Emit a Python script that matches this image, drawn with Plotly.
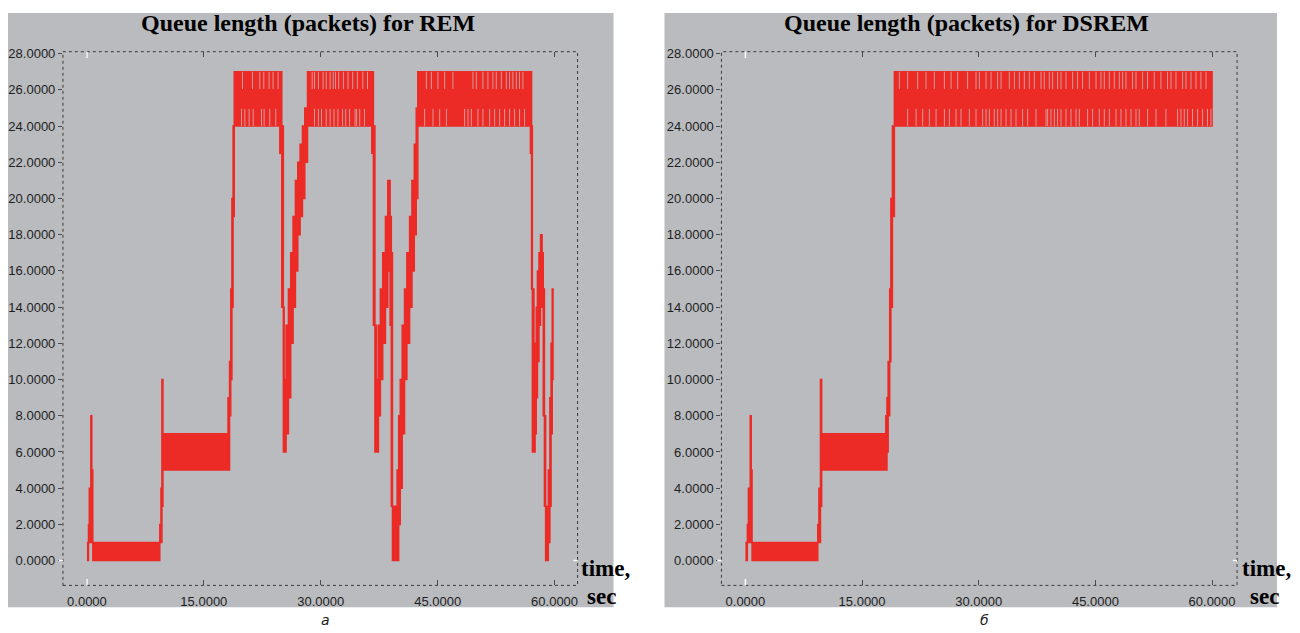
import plotly.graph_objects as go

# ---------------- DATA ----------------
# Queue length is shown as a min/max envelope per time bin:
# bin start time (s), minimum queue (packets), maximum queue (packets)
rem_t = [0.00, 0.20, 0.30, 0.50, 0.62, 0.75, 9.35, 9.50, 9.62, 9.75,
         18.10, 18.30, 18.45, 18.60, 18.75, 18.90, 24.75, 25.00, 25.20,
         25.30, 25.55, 25.85, 26.15, 26.45, 26.75, 27.05, 27.35, 27.65, 27.95, 28.30,
         36.55, 36.75, 36.95, 37.15, 37.40, 37.65, 37.95, 38.30, 38.60, 38.90, 39.05, 39.20,
         39.80, 40.00, 40.20, 40.45, 40.75, 41.05, 41.40, 41.70, 42.00, 42.25, 42.45,
         56.90, 57.05, 57.15, 57.35, 57.50, 57.65, 57.80, 58.00, 58.20, 58.40, 58.55, 58.70,
         58.85, 59.05, 59.20, 59.40, 59.55, 59.70]
rem_lo = [0, 1, 1, 1, 1, 0, 1, 1, 3, 5,
          5, 8, 10, 14, 19, 24, 22.5, 14, 6,
          6, 7, 9, 12, 14, 16, 18, 19, 20, 22, 24,
          22.5, 13, 6, 6, 8, 10, 12, 14, 16, 13, 3, 0,
          0, 2, 4, 7, 10, 12, 14, 16, 18, 20, 24,
          22.5, 15, 6, 6, 7, 9, 11, 13, 14, 14, 8, 3,
          0, 0, 1, 3, 7, 10]
rem_hi = [1, 2, 4, 8, 5, 1, 2, 4, 10, 7,
          9, 11, 15, 20, 24, 27, 27, 24, 14,
          10, 13, 15, 17, 19, 21, 22, 23, 24, 25, 27,
          27, 24, 13, 10, 13, 15, 17, 19, 21, 19, 17, 3,
          5, 8, 10, 13, 15, 17, 19, 21, 23, 25, 27,
          27, 24, 15, 10, 12, 14, 16, 17, 18, 17, 15, 8,
          3, 3, 5, 9, 12, 15]
rem_t_end = 59.90
# times where the oscillation peak stayed at 26 (gap in the 26-27 zone)
rem_gap_top = [19.96, 21.24, 22.18, 22.69, 23.37, 23.88, 24.53,
               28.9, 29.2, 29.7, 30.3, 30.7, 31.2, 31.6, 31.9, 32.3, 32.9, 33.5, 34.1, 34.7,
               35.4, 36.0,
               43.55, 44.19, 45.04, 45.9, 46.96, 49.53, 49.96, 50.81, 51.45, 52.09, 52.52,
               53.17, 53.81, 54.23, 54.65, 55.09, 55.51, 55.94]
# times where the oscillation trough stayed at 25 (gap in the 24-25 zone)
rem_gap_bot = [19.83, 20.26, 20.81, 21.33, 22.4, 22.73, 23.46, 24.23,
               29.2, 29.7, 30.1, 30.7, 31.2, 31.7, 32.2, 32.8, 33.2, 33.7, 34.4, 34.6,
               35.0, 35.6,
               43.33, 44.40, 45.26, 46.12, 48.46, 48.89, 49.32, 50.17, 50.81, 51.67, 52.31,
               52.95, 53.59, 54.23, 54.87, 55.51, 56.15]

dsrem_t = [0.00, 0.25, 0.38, 0.62, 0.75, 0.85, 9.30, 9.45, 9.65, 9.80,
           18.05, 18.20, 18.35, 18.55, 18.70, 18.90, 19.15]
dsrem_lo = [0, 1, 1, 1, 1, 0, 1, 1, 3, 5,
            5, 6, 8, 11, 14, 19, 24]
dsrem_hi = [1, 2, 4, 8, 5, 1, 2, 4, 10, 7,
            8, 9, 11, 15, 20, 24, 27]
dsrem_t_end = 60.10
dsrem_gap_top = [19.79, 20.86, 22.15, 23.22, 24.29,
                 25.58, 26.44, 27.29, 28.57, 29.65, 30.08, 30.94, 31.58, 32.43, 32.87,
                 33.93, 34.58, 35.22, 35.86, 36.5, 37.15, 38.01, 38.43, 39.07, 39.5,
                 40.14, 40.58, 41.22, 42.07, 42.71, 43.35, 44.22, 45.08, 45.72, 46.14,
                 46.79, 47.43, 48.07, 48.5, 48.93, 49.78, 50.22, 51.07, 51.71, 52.57,
                 53.43, 54.28, 54.72, 55.36, 56.21, 56.65, 57.29, 57.93, 58.57, 59.22]
dsrem_gap_bot = [20.86, 21.94, 22.79, 23.65, 24.51,
                 25.58, 26.22, 27.08, 27.72, 28.79, 29.65, 30.5, 30.94, 31.36, 32.0,
                 32.43, 32.87, 33.51, 34.15, 34.79, 35.64, 36.29, 37.36, 38.65, 38.86,
                 39.29, 39.72, 40.14, 40.58, 41.22, 41.86, 42.51, 42.93, 44.0, 44.64,
                 45.5, 46.14, 46.79, 47.65, 48.29, 48.93, 49.58, 50.22, 50.64, 51.71,
                 52.79, 54.07, 55.57, 56.0, 56.43, 56.85, 57.49, 58.14, 58.78, 59.42, 59.86]

titles = ["Queue length (packets) for REM", "Queue length (packets) for DSREM"]
captions = ["а", "б"]
x_ticks = [0, 15, 30, 45, 60]

# ---------------- STYLE ----------------
OFF = 8                      # page body margin of the browser
W, H = 1300 - OFF, 633 - OFF  # figure fills the rest of the window
RED = "#EC2A26"
GREY = "#B9BBBE"
STRIPE = "#D4A6A5"
TXT = "#1E1E1E"
TICKC = "#4a4a4a"


def px(x):
    return (x - OFF) / W


def py(y):
    return 1 - (y - OFF) / H


panels = [
    dict(t=rem_t, lo=rem_lo, hi=rem_hi, tend=rem_t_end, gt=rem_gap_top, gb=rem_gap_bot,
         frame=(63, 578), x0px=87, x60px=555, bg=(8, 614), title_x=308, time_x=579, sec_x=585, cap_x=326),
    dict(t=dsrem_t, lo=dsrem_lo, hi=dsrem_hi, tend=dsrem_t_end, gt=dsrem_gap_top, gb=dsrem_gap_bot,
         frame=(722, 1238), x0px=746, x60px=1213, bg=(665, 1278), title_x=967, time_x=1241, sec_x=1249, cap_x=985),
]
FRAME_T, FRAME_B = 47, 585
Y0PX, Y28PX = 560, 49
yscale = (Y0PX - Y28PX) / 28.0
y_range = [(Y0PX - FRAME_B) / yscale, (Y0PX - FRAME_T) / yscale]

fig = go.Figure()
shapes = []
annotations = []
layout_axes = {}

for i, p in enumerate(panels):
    n = i + 1
    xa = "x" if n == 1 else f"x{n}"
    ya = "y" if n == 1 else f"y{n}"
    xs = list(p["t"]) + [p["tend"]]
    lo = list(p["lo"]) + [p["lo"][-1]]
    hi = list(p["hi"]) + [p["hi"][-1]]
    fig.add_trace(go.Scatter(x=xs, y=lo, mode="lines", line=dict(color=RED, width=1.5, shape="hv"),
                             xaxis=xa, yaxis=ya, showlegend=False, hoverinfo="skip"))
    fig.add_trace(go.Scatter(x=xs, y=hi, mode="lines", line=dict(color=RED, width=1.5, shape="hv"),
                             fill="tonexty", fillcolor=RED,
                             xaxis=xa, yaxis=ya, showlegend=False, hoverinfo="skip"))
    sx, sy = [], []
    for t in p["gt"]:
        sx += [t, t, None]
        sy += [26.05, 27.0, None]
    for t in p["gb"]:
        sx += [t, t, None]
        sy += [24.0, 24.95, None]
    fig.add_trace(go.Scatter(x=sx, y=sy, mode="lines", line=dict(color=STRIPE, width=0.9),
                             xaxis=xa, yaxis=ya, showlegend=False, hoverinfo="skip"))

    fl, fr = p["frame"]
    xscale = (p["x60px"] - p["x0px"]) / 60.0
    x_range = [(fl - p["x0px"]) / xscale, (fr - p["x0px"]) / xscale]
    dom_x = [px(fl), px(fr)]
    dom_y = [py(FRAME_B), py(FRAME_T)]
    tickfont = dict(family="Liberation Sans, Arial", size=13, color=TXT)
    layout_axes["xaxis" if n == 1 else f"xaxis{n}"] = dict(
        domain=dom_x, range=x_range, anchor=ya, tickvals=x_ticks, tickformat=".4f",
        ticks="inside", ticklen=5, tickcolor=TICKC, tickwidth=1, mirror="ticks",
        showline=True, linecolor=GREY, linewidth=1,
        showgrid=False, zeroline=False, tickfont=tickfont, ticklabelstandoff=4, fixedrange=True)
    layout_axes["yaxis" if n == 1 else f"yaxis{n}"] = dict(
        domain=dom_y, range=y_range, anchor=xa, dtick=2, tick0=0, tickformat=".4f",
        ticks="outside", ticklen=4, tickcolor=TICKC, tickwidth=1,
        showline=False, showgrid=False, zeroline=False, tickfont=tickfont, fixedrange=True)
    # right-hand inside ticks
    layout_axes[f"yaxis{n + 2}"] = dict(
        domain=dom_y, range=y_range, anchor=xa, overlaying=ya, side="right",
        dtick=2, tick0=0, ticks="inside", ticklen=4, tickcolor=TICKC, showticklabels=False,
        showline=False, showgrid=False, zeroline=False, fixedrange=True)

    bl, br = p["bg"]
    shapes.append(dict(type="rect", xref="paper", yref="paper", x0=px(bl), x1=px(br),
                       y0=py(607), y1=py(OFF), fillcolor=GREY, line=dict(width=0), layer="below"))
    shapes.append(dict(type="rect", xref="paper", yref="paper", x0=dom_x[0], x1=dom_x[1],
                       y0=dom_y[0], y1=dom_y[1], line=dict(color="#3a3a3a", width=1, dash="dot"),
                       layer="above"))
    # white marks at the origin ticks
    shapes.append(dict(type="line", xref=xa, yref=f"{ya} domain", x0=0, x1=0, y0=0, y1=0.012,
                       line=dict(color="white", width=1.5)))
    shapes.append(dict(type="line", xref=xa, yref=f"{ya} domain", x0=0, x1=0, y0=0.988, y1=1,
                       line=dict(color="white", width=1.5)))
    shapes.append(dict(type="line", xref=f"{xa} domain", yref=ya, x0=-0.008, x1=0, y0=0, y1=0,
                       line=dict(color="white", width=1.5)))
    shapes.append(dict(type="line", xref=f"{xa} domain", yref=ya, x0=0.992, x1=1, y0=0, y1=0,
                       line=dict(color="white", width=1.5)))

    annotations.append(dict(text=f"<b>{titles[i]}</b>", xref="paper", yref="paper",
                            x=px(p["title_x"]), y=py(18), xanchor="center", yanchor="middle",
                            showarrow=False, font=dict(family="Liberation Serif, Times New Roman",
                                                       size=24, color="black")))
    annotations.append(dict(text="<b>time,</b>", xref="paper", yref="paper",
                            x=px(p["time_x"]), y=py(568), xanchor="left", yanchor="middle",
                            showarrow=False, font=dict(family="Liberation Serif, Times New Roman",
                                                       size=23, color="black")))
    annotations.append(dict(text="<b>sec</b>", xref="paper", yref="paper",
                            x=px(p["sec_x"]), y=py(596), xanchor="left", yanchor="middle",
                            showarrow=False, font=dict(family="Liberation Serif, Times New Roman",
                                                       size=23, color="black")))
    annotations.append(dict(text=f"<i>{captions[i]}</i>", xref="paper", yref="paper",
                            x=px(p["cap_x"]), y=py(620), xanchor="center", yanchor="middle",
                            showarrow=False, font=dict(family="DejaVu Sans", size=14, color=TXT)))

fig.update_layout(
    width=W, height=H, margin=dict(l=0, r=0, t=0, b=0),
    paper_bgcolor="white", plot_bgcolor="rgba(0,0,0,0)",
    shapes=shapes, annotations=annotations, showlegend=False,
    **layout_axes,
)

fig.write_html("out.html")
